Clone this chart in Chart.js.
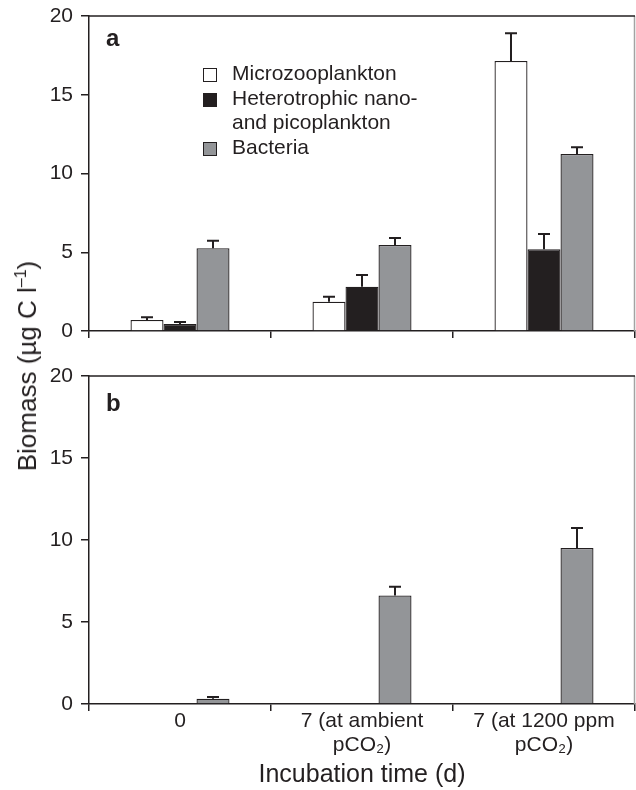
<!DOCTYPE html>
<html>
<head>
<meta charset="utf-8">
<script src="https://cdn.jsdelivr.net/npm/chart.js@4.4.0/dist/chart.umd.min.js"></script>
<style>
  body { margin: 0; background: #fff; }
  #wrap { position: relative; width: 636px; height: 790px; font-family: "Liberation Sans", Arial, sans-serif; color: #231f20; }
  canvas { position: absolute; left: 0; }
  #chartA { top: 0; }
  #chartB { top: 360px; }
  .panel { position: absolute; font-weight: bold; font-size: 24px; line-height: 1; }
  #ytitle { position: absolute; left: 27px; top: 366px; font-size: 26px; line-height: 1; white-space: nowrap;
            transform: translate(-50%, -50%) rotate(-90deg); }
  #ytitle sup { font-size: 16px; vertical-align: 0; position: relative; top: -10px; }
  #legend { position: absolute; left: 203px; top: 61px; font-size: 21px; line-height: 24.5px; }
  .leg-item { position: relative; padding-left: 29px; }
  .leg-box { position: absolute; left: 0; top: 7px; width: 12px; height: 12px; border: 1px solid #231f20; }
</style>
</head>
<body>
<div id="wrap">
  <canvas id="chartA" width="636" height="345"></canvas>
  <canvas id="chartB" width="636" height="430"></canvas>
  <div class="panel" style="left:106px; top:26px;">a</div>
  <div class="panel" style="left:106px; top:391px;">b</div>
  <div id="ytitle">Biomass (µg C l<sup>–1</sup>)</div>
  <div id="legend"></div>
</div>
<script>
// categories and series
const categories = [['0'], ['7 (at ambient', 'pCO₂)'], ['7 (at 1200 ppm', 'pCO₂)']];
const seriesNames = ['Microzooplankton', 'Heterotrophic nano- and picoplankton', 'Bacteria'];
const legendLines = [['Microzooplankton'], ['Heterotrophic nano-', 'and picoplankton'], ['Bacteria']];
const seriesColors = ['#ffffff', '#231f20', '#939598'];

// panel a
const microA = [0.70, 1.86, 17.14];
const microErrA = [0.17, 0.32, 1.76];
const heteroA = [0.44, 2.81, 5.19];
const heteroErrA = [0.13, 0.75, 0.97];
const bacteriaA = [5.25, 5.46, 11.24];
const bacteriaErrA = [0.48, 0.44, 0.42];

// panel b
const microB = [null, null, null];
const heteroB = [null, null, null];
const bacteriaB = [0.32, 6.62, 9.51];
const bacteriaErrB = [0.11, 0.53, 1.22];

const yTicks = [0, 5, 10, 15, 20];

const ink = '#231f20';

// draws upper error bars from each dataset's errors array
const errorBars = {
    id: 'errorBars',
    afterDatasetsDraw(chart) {
        const ctx = chart.ctx;
        const yScale = chart.scales.y;
        chart.data.datasets.forEach((ds, i) => {
            if (!ds.errors) return;
            const meta = chart.getDatasetMeta(i);
            meta.data.forEach((bar, j) => {
                const v = ds.data[j], e = ds.errors[j];
                if (v == null || e == null) return;
                const yTop = yScale.getPixelForValue(v + e);
                ctx.save();
                ctx.strokeStyle = ink;
                ctx.lineWidth = 2;
                ctx.beginPath();
                ctx.moveTo(bar.x, bar.y);
                ctx.lineTo(bar.x, yTop);
                ctx.moveTo(bar.x - 6, yTop);
                ctx.lineTo(bar.x + 6, yTop);
                ctx.stroke();
                ctx.restore();
            });
        });
    }
};

// top and right border of the plot box
const frame = {
    id: 'frame',
    afterDraw(chart) {
        const { ctx, chartArea: a } = chart;
        ctx.save();
        ctx.lineWidth = 1.5;
        ctx.strokeStyle = '#a3a3a3';
        ctx.beginPath();
        ctx.moveTo(a.right - 0.5, a.top);
        ctx.lineTo(a.right - 0.5, a.bottom);
        ctx.stroke();
        ctx.strokeStyle = ink;
        ctx.beginPath();
        ctx.moveTo(a.left, a.top);
        ctx.lineTo(a.right, a.top);
        ctx.stroke();
        ctx.restore();
    }
};

function makeDataset(i, data, errors) {
    return {
        label: seriesNames[i],
        data: data,
        errors: errors,
        backgroundColor: seriesColors[i],
        borderColor: ink,
        borderWidth: 1.3,
        categoryPercentage: 0.544,
        barPercentage: 1
    };
}

function makeChart(id, datasets, showLabels, xHeight) {
    return new Chart(document.getElementById(id), {
        type: 'bar',
        data: { labels: categories, datasets: datasets },
        options: {
            responsive: false,
            animation: false,
            devicePixelRatio: 1,
            layout: { padding: { top: 16, right: 1, left: 0, bottom: 0 } },
            plugins: { legend: { display: false }, tooltip: { enabled: false } },
            scales: {
                x: {
                    ticks: { display: showLabels, padding: -1, color: ink, maxRotation: 0, autoSkip: false,
                             font: { size: 21, lineHeight: 1.11 } },
                    grid: { offset: true, drawOnChartArea: false, drawTicks: true, tickLength: 7, color: ink, lineWidth: 1.5 },
                    border: { display: true, color: ink, width: 1.5 },
                    title: { display: showLabels, text: 'Incubation time (d)', color: ink,
                             font: { size: 25, lineHeight: 1 }, padding: { top: 0, bottom: 2 } },
                    afterFit(scale) {
                        scale.height = xHeight;
                        scale.paddingLeft = 0;
                        scale.paddingRight = 0;
                    }
                },
                y: {
                    min: 0,
                    max: 20,
                    afterBuildTicks(scale) { scale.ticks = yTicks.map(v => ({ value: v })); },
                    ticks: { padding: 8, color: ink, font: { size: 21 } },
                    grid: { drawOnChartArea: false, drawTicks: true, tickLength: 8, color: ink, lineWidth: 1.5 },
                    border: { display: true, color: ink, width: 1.5 },
                    afterFit(scale) {
                        scale.width = 89;
                        scale.paddingTop = 0;
                        scale.paddingBottom = 0;
                    }
                }
            }
        },
        plugins: [errorBars, frame]
    });
}

makeChart('chartA', [
    makeDataset(0, microA, microErrA),
    makeDataset(1, heteroA, heteroErrA),
    makeDataset(2, bacteriaA, bacteriaErrA)
], false, 14);

makeChart('chartB', [
    makeDataset(0, microB, null),
    makeDataset(1, heteroB, null),
    makeDataset(2, bacteriaB, bacteriaErrB)
], true, 86);

// legend inside panel a
const legend = document.getElementById('legend');
legendLines.forEach((lines, i) => {
    const item = document.createElement('div');
    item.className = 'leg-item';
    const box = document.createElement('span');
    box.className = 'leg-box';
    box.style.background = seriesColors[i];
    item.appendChild(box);
    lines.forEach((t, k) => {
        if (k > 0) item.appendChild(document.createElement('br'));
        item.appendChild(document.createTextNode(t));
    });
    legend.appendChild(item);
});
</script>
</body>
</html>
